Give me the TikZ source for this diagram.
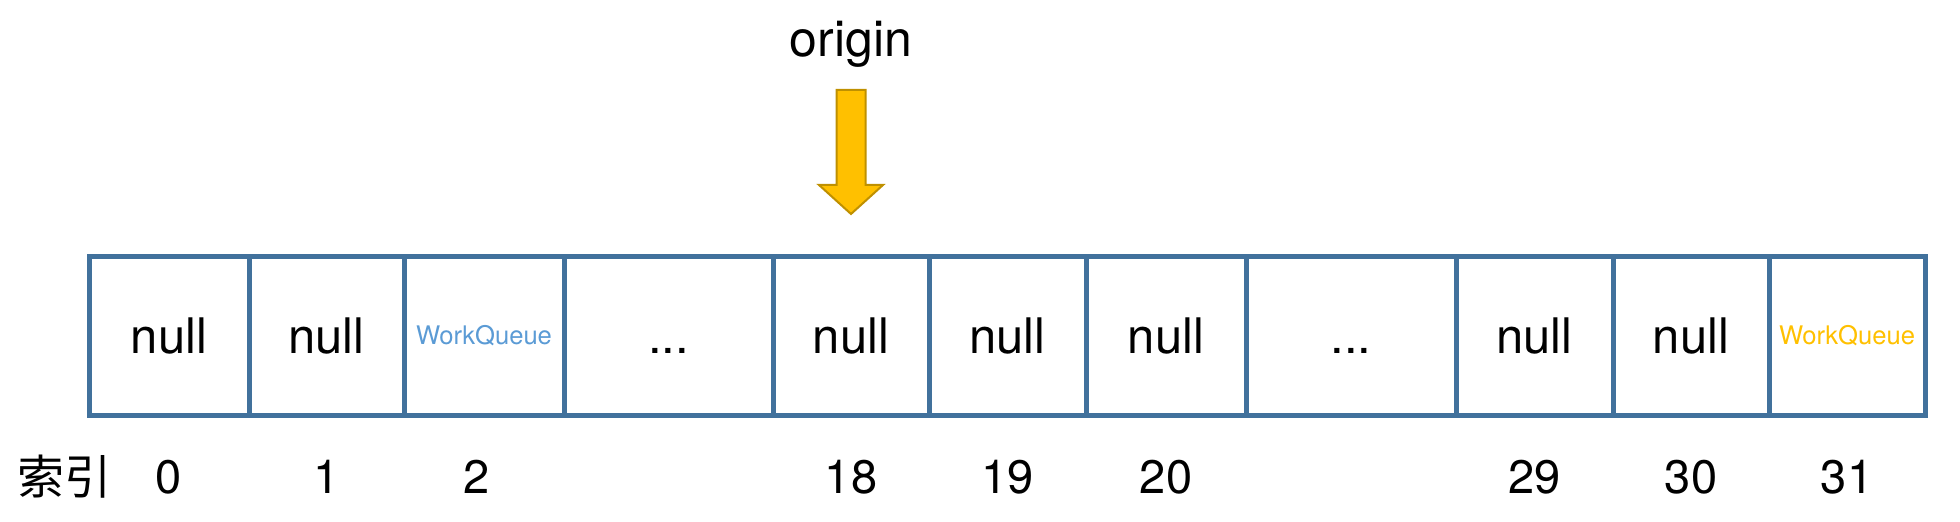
\documentclass[tikz,border=0pt]{standalone}
\usepackage{fontspec}
\setmainfont{TeX Gyre Heros}
\newfontfamily\cjk{Noto Sans CJK SC}
\usepackage{tikz}
\usetikzlibrary{calc}
\definecolor{frame}{HTML}{41719C}
\definecolor{gold}{HTML}{FFC000}
\definecolor{golddark}{HTML}{BF9000}
\definecolor{wqblue}{HTML}{5B9BD5}

\begin{document}
\begin{tikzpicture}[x=0.5pt,y=0.5pt,
  cell/.style={draw=frame,line width=2.5pt,minimum height=79.5pt,inner sep=0pt,text height=17.5pt,text depth=0pt,font=\fontsize{24.5}{28}\selectfont},
  wq/.style={text height=9pt,font=\fontsize{12.8}{15}\selectfont},
  idx/.style={inner sep=0pt,font=\fontsize{23.5}{27}\selectfont}]
\useasboundingbox (0,0) rectangle (1960,522);
\node[cell,minimum width=80pt]   (c0)  at (169,186)    {null};
\node[cell,minimum width=77.5pt] (c1)  at (326.5,186)  {null};
\node[cell,minimum width=80pt,wq,text=wqblue] (c2) at (484,186) {WorkQueue};
\node[cell,minimum width=104.5pt] (c3) at (668.5,186)  {...};
\node[cell,minimum width=78pt]   (c4)  at (851,186)    {null};
\node[cell,minimum width=78.5pt] (c5)  at (1007.5,186) {null};
\node[cell,minimum width=80pt]   (c6)  at (1166,186)   {null};
\node[cell,minimum width=105pt]  (c7)  at (1351,186)   {...};
\node[cell,minimum width=78.5pt] (c8)  at (1534.5,186) {null};
\node[cell,minimum width=78pt]   (c9)  at (1691,186)   {null};
\node[cell,minimum width=78pt,wq,text=gold] (c10) at (1847,186) {WorkQueue};
% origin pointer
\node[anchor=base,font=\fontsize{25}{29}\selectfont] (org) at (851,465) {origin};
\coordinate (tip) at ($(c4.north)+(0,40)$);
\draw[fill=gold,draw=golddark,line width=1pt] (tip) -- ++(-32,29) -- ++(17.5,0) -- ++(0,95) -- ++(29,0) -- ++(0,-95) -- ++(17.5,0) -- cycle;
% index row
\node[idx,font=\cjk\fontsize{23.5}{26}\selectfont] (lab) at (65,45) {索引};
\node[idx] (i0)  at (c0 |- 0,45)  {0};
\node[idx] (i1)  at (c1 |- 0,45)  {1};
\node[idx] (i2)  at (477,45)      {2};
\node[idx] (i18) at (c4 |- 0,45)  {18};
\node[idx] (i19) at (c5 |- 0,45)  {19};
\node[idx] (i20) at (c6 |- 0,45)  {20};
\node[idx] (i29) at (c8 |- 0,45)  {29};
\node[idx] (i30) at (c9 |- 0,45)  {30};
\node[idx] (i31) at (c10 |- 0,45) {31};
\end{tikzpicture}
\end{document}
